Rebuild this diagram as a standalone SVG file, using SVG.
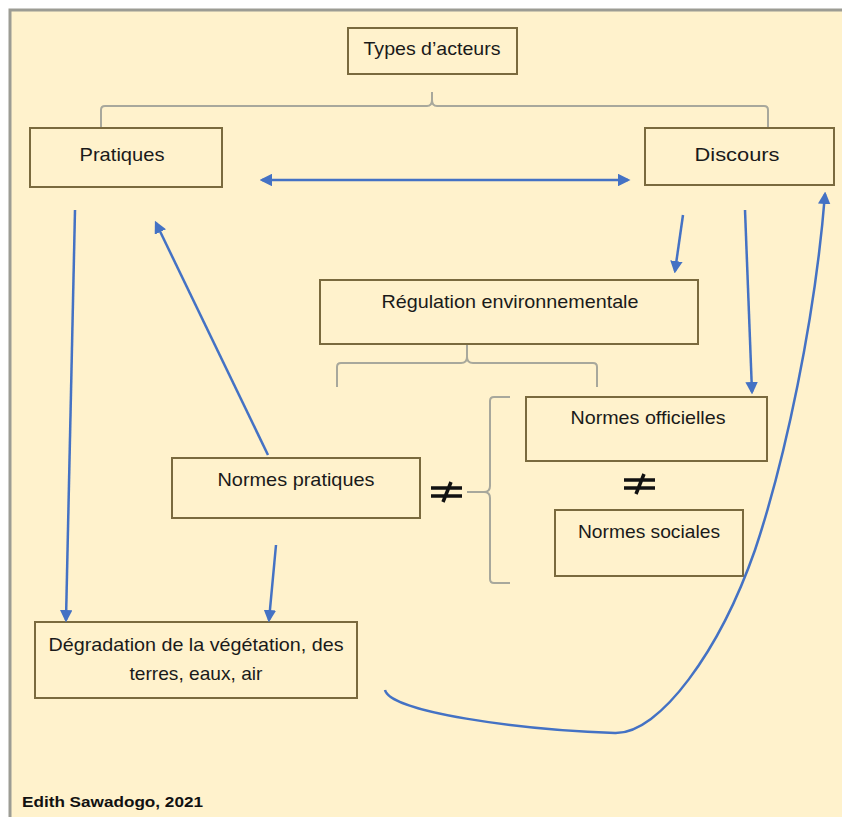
<svg xmlns="http://www.w3.org/2000/svg" width="842" height="817" viewBox="0 0 842 817">
<defs>
<marker id="ah" viewBox="0 0 10 10" refX="8" refY="5" markerWidth="5" markerHeight="5" orient="auto-start-reverse" markerUnits="strokeWidth">
<path d="M0,0 L10,5 L0,10 z" fill="#4472C4"/>
</marker>
<style>
.box{fill:#FFF2CC;stroke:#7A6A3E;stroke-width:2}
.t{font-family:"Liberation Sans",Arial,sans-serif;font-size:18.5px;fill:#1a1a1a;text-anchor:middle}
.br{fill:none;stroke:#A8A89C;stroke-width:2}
.ar{fill:none;stroke:#4472C4;stroke-width:2.5;marker-end:url(#ah)}
.ne{stroke:#111;stroke-width:3.5}
</style>
</defs>
<rect x="0" y="0" width="842" height="817" fill="#ffffff"/>
<rect x="10" y="10" width="834" height="809" fill="#FFF2CC" stroke="#9C9C94" stroke-width="3"/>

<g id="braces">
<path class="br" d="M101,128 L101,110 Q101,106 105,106 L427,106 Q432,106 432,100 L432,92 M432,100 Q432,106 437,106 L764,106 Q768,106 768,110 L768,128"/>
<path class="br" d="M467,345 L467,357 Q467,363 461,363 L341,363 Q337,363 337,367 L337,387 M467,357 Q467,363 473,363 L593,363 Q597,363 597,367 L597,387"/>
<path class="br" d="M510,397 L494,397 Q490,397 490,401 L490,486 Q490,492 484,492 L467,492 M484,492 Q490,492 490,498 L490,579 Q490,583 494,583 L510,583"/>
</g>

<g id="types"><rect class="box" x="348" y="28" width="169" height="46"/><text class="t" x="432" y="55" textLength="137" lengthAdjust="spacingAndGlyphs">Types d’acteurs</text></g>
<g id="pratiques"><rect class="box" x="30" y="128" width="192" height="59"/><text class="t" x="122" y="161" textLength="85" lengthAdjust="spacingAndGlyphs">Pratiques</text></g>
<g id="discours"><rect class="box" x="645" y="128" width="189" height="57"/><text class="t" x="737" y="161" textLength="85" lengthAdjust="spacingAndGlyphs">Discours</text></g>
<g id="regulation"><rect class="box" x="320" y="280" width="378" height="64"/><text class="t" x="510" y="308" textLength="257" lengthAdjust="spacingAndGlyphs">Régulation environnementale</text></g>
<g id="officielles"><rect class="box" x="526" y="397" width="241" height="64"/><text class="t" x="648" y="424" textLength="155" lengthAdjust="spacingAndGlyphs">Normes officielles</text></g>
<g id="sociales"><rect class="box" x="555" y="510" width="188" height="66"/><text class="t" x="649" y="538" textLength="142" lengthAdjust="spacingAndGlyphs">Normes sociales</text></g>
<g id="normes-pratiques"><rect class="box" x="172" y="458" width="248" height="60"/><text class="t" x="296" y="486" textLength="157" lengthAdjust="spacingAndGlyphs">Normes pratiques</text></g>
<g id="degradation"><rect class="box" x="35" y="622" width="322" height="76"/><text class="t" x="196" y="651" textLength="295" lengthAdjust="spacingAndGlyphs">Dégradation de la végétation, des</text><text class="t" x="196" y="680" textLength="133" lengthAdjust="spacingAndGlyphs">terres, eaux, air</text></g>

<g id="neq1"><path class="ne" d="M431,488 L462,488 M431,496 L462,496 M451,482 L443,502"/></g>
<g id="neq2"><path class="ne" d="M624,480 L655,480 M624,488 L655,488 M644,474 L636,494"/></g>

<g id="connectors">
<path class="ar" d="M628,180 L262,180" style="marker-start:url(#ah)"/>
<path class="ar" d="M75,210 L66,620"/>
<path class="ar" d="M268,455 L156,223"/>
<path class="ar" d="M683,215 L675,271"/>
<path class="ar" d="M745,210 L752,392"/>
<path class="ar" d="M276,545 L269,620"/>
<path class="ar" d="M385,690 C390,712 520,730 615,733 C660,734 720,650 755,550 C785,460 815,320 825,194"/>
</g>

<text x="22" y="807" font-family="Liberation Sans,Arial,sans-serif" font-weight="bold" font-size="15" fill="#111" textLength="181" lengthAdjust="spacingAndGlyphs">Edith Sawadogo, 2021</text>
</svg>
